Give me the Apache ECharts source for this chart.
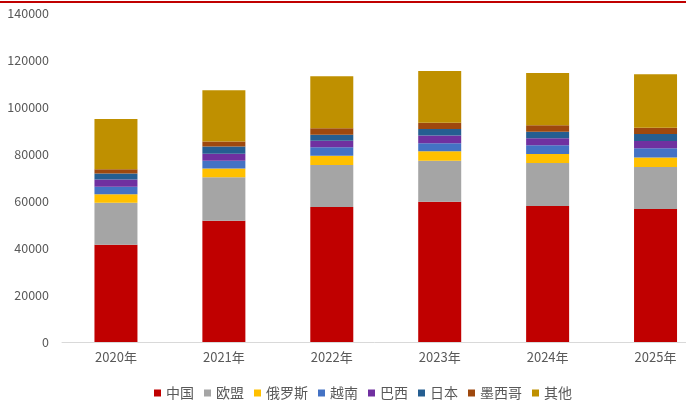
<!DOCTYPE html>
<html>
<head>
<meta charset="utf-8">
<script src="https://cdn.jsdelivr.net/npm/echarts@6/dist/echarts.min.js"></script>
<style>
  html, body { margin: 0; padding: 0; background: #fff; }
  #chart { width: 686px; height: 400px; }
</style>
</head>
<body>
<div id="chart"></div>
<script>
// Yearly volumes by origin, stacked
const years = ['2020年', '2021年', '2022年', '2023年', '2024年', '2025年'];

const china   = [41400, 51600, 57400, 59700, 57900, 56600];
const eu      = [17900, 18500, 17900, 17400, 18300, 17900];
const russia  = [3600, 3700, 4000, 4100, 3800, 4000];
const vietnam = [3200, 3300, 3600, 3400, 3700, 4000];
const brazil  = [3100, 3000, 2700, 3300, 3000, 3000];
const japan   = [2550, 3100, 2550, 2700, 2800, 3000];
const mexico  = [1800, 2100, 2850, 2700, 2700, 2700];
const others  = [21300, 21800, 22100, 22000, 22300, 22700];

const seriesDefs = [
  { name: '中国',   data: china,   color: '#C00000' },
  { name: '欧盟',   data: eu,      color: '#A5A5A5' },
  { name: '俄罗斯', data: russia,  color: '#FFC000' },
  { name: '越南',   data: vietnam, color: '#4472C4' },
  { name: '巴西',   data: brazil,  color: '#7030A0' },
  { name: '日本',   data: japan,   color: '#255E91' },
  { name: '墨西哥', data: mexico,  color: '#9E480E' },
  { name: '其他',   data: others,  color: '#BF9000' }
];

const yTicks = { min: 0, max: 140000, interval: 20000 };

const font = '"Noto Sans CJK SC", "Noto Sans", sans-serif';

const chart = echarts.init(document.getElementById('chart'), null, { renderer: 'canvas' });

chart.setOption({
  animation: false,
  backgroundColor: '#ffffff',
  textStyle: { fontFamily: font },
  graphic: [{
    type: 'rect',
    left: 0, top: 1,
    shape: { width: 686, height: 2 },
    style: { fill: '#C00000' },
    silent: true
  }],
  legend: {
    left: 149,
    top: 381,
    itemWidth: 7,
    itemHeight: 7,
    itemGap: 10,
    icon: 'rect',
    textStyle: { fontSize: 14, color: '#595959', fontFamily: font },
    data: seriesDefs.map(s => s.name)
  },
  grid: {
    left: 62,
    right: -23.5,
    top: 13,
    bottom: 58,
    containLabel: false,
    outerBoundsMode: 'none'
  },
  xAxis: {
    type: 'category',
    data: years,
    axisLine: { lineStyle: { color: '#D9D9D9', width: 1 } },
    axisTick: { show: false },
    axisLabel: { color: '#595959', fontSize: 13, margin: 9, fontFamily: font }
  },
  yAxis: {
    type: 'value',
    min: yTicks.min,
    max: yTicks.max,
    interval: yTicks.interval,
    axisLine: { show: false },
    axisTick: { show: false },
    splitLine: { show: false },
    axisLabel: {
      color: '#595959',
      fontSize: 12.5,
      margin: 13,
      fontFamily: font,
      formatter: v => String(v)
    }
  },
  series: seriesDefs.map(s => ({
    name: s.name,
    type: 'bar',
    stack: 'total',
    barWidth: 43,
    data: s.data,
    itemStyle: { color: s.color },
    emphasis: { disabled: true }
  }))
});
</script>
</body>
</html>
